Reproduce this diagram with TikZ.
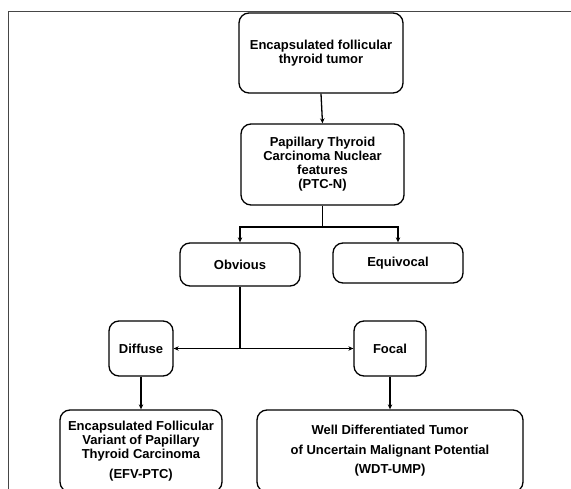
\documentclass[tikz,border=0pt]{standalone}
\usepackage{fontspec}
\setmainfont{Liberation Sans}
\usetikzlibrary{arrows.meta,calc}
\usepackage{xcolor}
\definecolor{frameGray}{RGB}{70,70,70}

\tikzset{
  box/.style={draw=black, line width=1.3pt, rounded corners=10pt, align=center,
    inner sep=0pt, font=\fontsize{13}{14}\selectfont\bfseries},
  arr/.style={line width=1.3pt, -{Stealth[length=5pt,width=4.5pt]}},
  link/.style={line width=1.3pt}
}

\begin{document}
\begin{tikzpicture}[x=1pt,y=-1pt]
    \useasboundingbox (0,0) rectangle (571,489);
    \clip (0,0) rectangle (571,489);
    % outer frame (top and left only)
    \draw[frameGray, line width=1pt] (8,489) -- (8,11.5) -- (571,11.5);

    \node[box, minimum width=164pt, minimum height=80pt] (tumor) at (321,53)
      {Encapsulated follicular\\thyroid tumor};
    \node[box, minimum width=163pt, minimum height=81pt] (ptcn) at (322.5,164.5)
      {Papillary Thyroid\\Carcinoma Nuclear\\features\\(PTC-N)};
    \node[box, minimum width=120pt, minimum height=43pt] (obvious) at (240,264.5) {Obvious};
    \node[box, minimum width=130pt, minimum height=40pt] (equivocal) at (398,263) {Equivocal};
    \node[box, minimum width=64pt, minimum height=55pt] (diffuse) at (141,348.5) {Diffuse};
    \node[box, minimum width=72pt, minimum height=55pt] (focal) at (390,348.5) {Focal};
    \node[box, minimum width=162pt, minimum height=82pt] (efvptc) at (141,451)
      {Encapsulated Follicular\\Variant of Papillary\\Thyroid Carcinoma\\[6pt](EFV-PTC)};
    \node[box, minimum width=266pt, minimum height=82pt] (wdtump) at (390,451)
      {Well Differentiated Tumor\\[5.5pt]of Uncertain Malignant Potential\\[5.5pt](WDT-UMP)};

    \coordinate (split) at (322.5,227);
    \draw[arr] (tumor.south) -- (ptcn.north);
    \draw[link] (ptcn.south) -- (ptcn.south |- split);
    \draw[arr] (ptcn.south |- split) -| (obvious.north);
    \draw[arr] (ptcn.south |- split) -| (equivocal.north);
    \draw[link] (obvious.south) -- (obvious.south |- diffuse.east);
    \draw[arr, {Stealth[length=5pt,width=4.5pt]}-{Stealth[length=5pt,width=4.5pt]}] (diffuse.east) -- (focal.west);
    \draw[arr] (diffuse.south) -- (efvptc.north);
    \draw[arr] (focal.south) -- (wdtump.north);
  \end{tikzpicture}
\end{document}
